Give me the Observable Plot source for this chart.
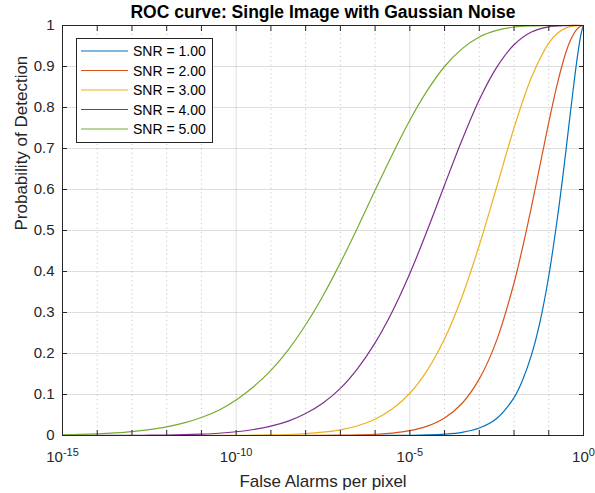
<!DOCTYPE html>
<html><head><meta charset="utf-8">
<script src="https://cdn.jsdelivr.net/npm/d3@7"></script>
<script src="https://cdn.jsdelivr.net/npm/@observablehq/plot@0.6"></script>
<style>
body{margin:0;background:#fff}
svg{font-family:"Liberation Sans",Arial,Helvetica,sans-serif}
</style>
</head><body><div id="chart"></div>
<script>
// Series names and colours
const names = ["SNR = 1.00","SNR = 2.00","SNR = 3.00","SNR = 4.00","SNR = 5.00"];
const colors = ["#0072BD","#D95319","#EDB120","#7E2F8E","#77AC30"];

// False alarm rate as log10 exponent, and probability of detection
const fa1 = [-15,-8,-7,-6,-5.5,-5,-4.5,-4,-3.5,-3,-2.5,-2,-1.75,-1.5,-1.25,-1,-0.75,-0.6,-0.5,-0.4,-0.3,-0.2,-0.1,-0.05,0];
const pd1 = [0,0,0,0.0001,0.0002,0.0005,0.0013,0.0033,0.0078,0.0183,0.0416,0.0924,0.136,0.196,0.278,0.389,0.531,0.629,0.699,0.771,0.842,0.909,0.966,0.987,1];

const fa2 = [-15,-10,-9,-8,-7,-6.5,-6,-5.5,-5,-4.5,-4,-3.5,-3,-2.5,-2,-1.75,-1.5,-1.25,-1,-0.75,-0.6,-0.5,-0.4,-0.3,-0.2,-0.1,0];
const pd2 = [0,0.00001,0.00003,0.00015,0.0007,0.0014,0.003,0.006,0.0118,0.0228,0.0428,0.078,0.138,0.232,0.372,0.460,0.557,0.660,0.764,0.859,0.908,0.936,0.959,0.977,0.990,0.9976,1];

const fa3 = [-15,-13,-12,-11,-10,-9.5,-9,-8.5,-8,-7.5,-7,-6.5,-6,-5.5,-5,-4.5,-4,-3.5,-3,-2.5,-2,-1.5,-1,-0.75,-0.5,-0.3,0];
const pd3 = [0,0.00001,0.00003,0.0001,0.0004,0.0007,0.0014,0.0025,0.0045,0.008,0.0139,0.0239,0.0398,0.065,0.103,0.159,0.236,0.338,0.464,0.606,0.750,0.873,0.957,0.981,0.9942,0.9987,1];

const fa4 = [-15,-14,-13,-12.5,-12,-11.5,-11,-10.5,-10,-9.5,-9,-8.5,-8,-7.5,-7,-6.5,-6,-5.5,-5,-4.5,-4,-3.5,-3,-2.5,-2,-1.5,-1,-0.5,0];
const pd4 = [0.00004,0.00013,0.0004,0.0007,0.0012,0.0021,0.0034,0.0055,0.0091,0.0146,0.0229,0.0351,0.0535,0.0793,0.115,0.164,0.226,0.303,0.395,0.500,0.611,0.720,0.819,0.898,0.953,0.984,0.9967,0.9998,1];

const fa5 = [-15,-14.5,-14,-13.5,-13,-12.5,-12,-11.5,-11,-10.5,-10,-9.5,-9,-8.5,-8,-7.5,-7,-6.5,-6,-5.5,-5,-4.5,-4,-3.5,-3,-2.5,-2,-1.5,-1,0];
const pd5 = [0.0016,0.0026,0.004,0.0062,0.0094,0.0143,0.021,0.0307,0.044,0.0618,0.0868,0.119,0.159,0.209,0.270,0.341,0.421,0.508,0.598,0.686,0.769,0.841,0.900,0.943,0.972,0.988,0.9963,0.9992,0.9999,1];

// Ticks
const decadeExps = [-15,-14,-13,-12,-11,-10,-9,-8,-7,-6,-5,-4,-3,-2,-1,0];
const majorExps = [-15,-10,-5,0];
const yTicks = [0,0.1,0.2,0.3,0.4,0.5,0.6,0.7,0.8,0.9,1];

const titleText = "ROC curve: Single Image with Gaussian Noise";
const xLabel = "False Alarms per pixel";
const yLabel = "Probability of Detection";

const faAll = [fa1,fa2,fa3,fa4,fa5];
const pdAll = [pd1,pd2,pd3,pd4,pd5];
const rows = names.flatMap((n, s) => faAll[s].map((e, i) => ({snr: n, fa: Math.pow(10, e), pd: pdAll[s][i]})));
const decades = decadeExps.map(e => Math.pow(10, e));
const majors = majorExps.map(e => Math.pow(10, e));
const minors = decades.filter(d => !majors.includes(d));

const ink = "#262626";
const font = '"Liberation Sans",Arial,Helvetica,sans-serif';
const noText = () => "";

const plot = Plot.plot({
  width: 595, height: 493,
  marginLeft: 62, marginRight: 12, marginTop: 25, marginBottom: 58,
  style: {fontFamily: font, color: ink, background: "white", overflow: "visible"},
  x: {type: "log", domain: [1e-15, 1], label: null},
  y: {domain: [0, 1], label: null},
  color: {domain: names, range: colors},
  marks: [
    Plot.gridY(yTicks, {stroke: "#000", strokeOpacity: 0.13}),
    Plot.gridX(majors, {stroke: "#000", strokeOpacity: 0.13}),
    Plot.gridX(minors, {stroke: "#000", strokeOpacity: 0.22, strokeDasharray: "1.2,3.2"}),
    Plot.line(rows, {x: "fa", y: "pd", z: "snr", stroke: "snr", strokeWidth: 1.2, curve: "catmull-rom"}),
    Plot.frame({stroke: ink, strokeWidth: 1}),
    // inward ticks on all four sides
    Plot.axisX(decades, {anchor: "bottom", tickSize: 5, dy: -5, tickFormat: noText, label: null, stroke: ink}),
    Plot.axisX(decades, {anchor: "top", tickSize: 5, dy: 5, tickFormat: noText, label: null, stroke: ink}),
    Plot.axisY(yTicks, {anchor: "left", tickSize: 5, dx: 5, tickFormat: noText, label: null, stroke: ink}),
    Plot.axisY(yTicks, {anchor: "right", tickSize: 5, dx: -5, tickFormat: noText, label: null, stroke: ink}),
    // tick labels
    Plot.axisX(majors, {anchor: "bottom", tickSize: 0, tickPadding: 16, label: null, fontSize: 15, fill: ink,
      tickFormat: d => "10^" + Math.round(Math.log10(d))}),
    Plot.axisY(yTicks, {anchor: "left", tickSize: 0, tickPadding: 8, label: null, fontSize: 15, fill: ink,
      tickFormat: d => String(+d.toFixed(1))}),
    // title and axis labels
    Plot.text([titleText], {text: d => d, frameAnchor: "top", dy: -8, lineAnchor: "bottom",
      fontWeight: "bold", fontSize: 17.5, fill: "#000"}),
    Plot.text([xLabel], {text: d => d, frameAnchor: "bottom", dy: 39, lineAnchor: "top", fontSize: 17, fill: ink}),
    Plot.text([yLabel], {text: d => d, frameAnchor: "left", dx: -48, rotate: -90, lineAnchor: "top", fontSize: 17, fill: ink})
  ]
});

document.getElementById("chart").appendChild(plot);

// superscript exponents for the x tick labels
d3.select(plot).selectAll('g[aria-label="x-axis tick label"] text').each(function() {
  const t = d3.select(this);
  const s = t.text();
  if (!s.includes("^")) return;
  const [base, exp] = s.split("^");
  t.text(null);
  t.append("tspan").text(base);
  t.append("tspan").attr("dy", -6).attr("font-size", 11).text(exp);
});

// legend box (upper left, inside the axes)
const svg = d3.select(plot);
const lg = svg.append("g").attr("font-family", font).attr("font-size", 14).attr("text-anchor", "start");
lg.append("rect").attr("x", 76.5).attr("y", 38.5).attr("width", 136).attr("height", 104)
  .attr("fill", "white").attr("stroke", ink).attr("stroke-width", 1);
names.forEach((n, i) => {
  const cy = 51 + i * 19.5;
  lg.append("line").attr("x1", 81).attr("x2", 128).attr("y1", cy).attr("y2", cy)
    .attr("stroke", colors[i]).attr("stroke-width", 1.2);
  lg.append("text").attr("x", 133).attr("y", cy + 5).attr("fill", "#000").attr("text-anchor", "start").text(n);
});
</script>
</body></html>
